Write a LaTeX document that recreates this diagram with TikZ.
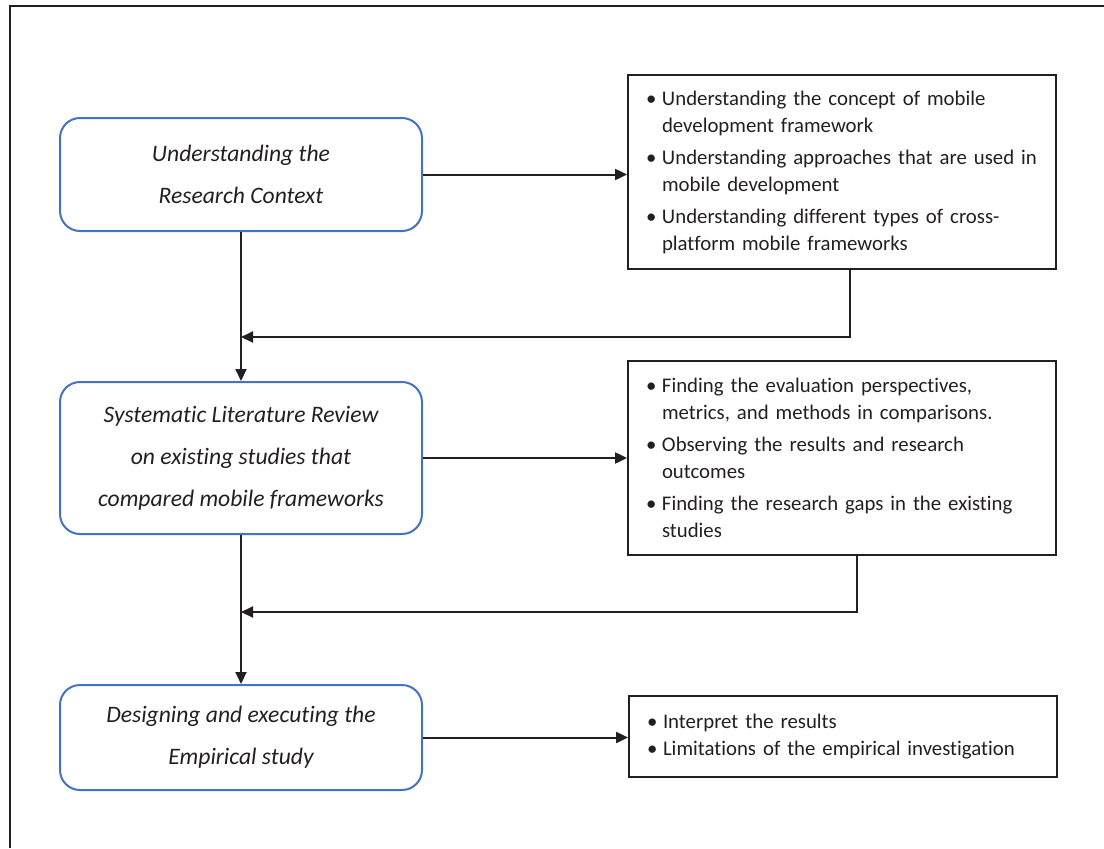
\documentclass[tikz,border=0pt]{standalone}
\usepackage{fontspec}
\setmainfont{Carlito}[RawFeature=-liga]
\usepackage{tikz}
\usetikzlibrary{arrows.meta}

\definecolor{stepblue}{RGB}{68,114,196}
\definecolor{inkgray}{RGB}{35,31,32}
\newcommand{\bmark}{\makebox[8pt][l]{\textbullet}}
\newcommand{\bgap}{\hspace*{8pt}}

\begin{document}
\begin{tikzpicture}[x=0.5pt, y=-0.5pt, inkgray,
    stepbox/.style={draw=stepblue, line width=1pt, rounded corners=10pt, align=center,
      minimum width=181pt, font=\fontsize{11.8}{21}\selectfont\itshape},
    taskbox/.style={draw=inkgray, line width=0.9pt, align=left, inner xsep=9pt,
      text width=196pt, minimum width=214pt, font=\fontsize{10.4}{13.5}\selectfont},
    flow/.style={line width=1pt, -{Triangle[length=6pt, width=5.5pt]}}]
  \useasboundingbox (0,0) rectangle (1104,848);
  \draw[line width=0.6pt] (10,848) -- (10,6) -- (1104,6);

  \node[stepbox, minimum height=56.5pt] (s0) at (241,174.5) {Understanding the\\Research Context};
  \node[stepbox, minimum height=76pt] (s1) at (241,458) {Systematic Literature Review\\on existing studies that\\compared mobile frameworks};
  \node[stepbox, minimum height=52.5pt] (s2) at (241,737.5) {Designing and executing the\\Empirical study};

  \node[taskbox, minimum height=97pt] (t0) at (842,172) {\bmark Understanding the concept of mobile\\ \bgap development framework\\[2.5pt]
    \bmark Understanding approaches that are used in\\ \bgap mobile development\\[2.5pt]
    \bmark Understanding different types of cross-\\ \bgap platform mobile frameworks};
  \node[taskbox, minimum height=97pt] (t1) at (842,458) {\bmark Finding the evaluation perspectives,\\ \bgap metrics, and methods in comparisons.\\[2.5pt]
    \bmark Observing the results and research\\ \bgap outcomes\\[2.5pt]
    \bmark Finding the research gaps in the existing\\ \bgap studies};
  \node[taskbox, minimum height=40.5pt] (t2) at (843,736.5) {\bmark Interpret the results\\
    \bmark Limitations of the empirical investigation};

  \coordinate (j0) at (850,337);
  \coordinate (j1) at (857,612);

  \draw[flow] (s0) -- (s1);
  \draw[flow] (s1) -- (s2);
  \draw[flow] (s0.east) -- (s0.east -| t0.west);
  \draw[flow] (s1.east) -- (s1.east -| t1.west);
  \draw[flow] (s2.east) -- (s2.east -| t2.west);
  \draw[flow] (j0 |- t0.south) -- (j0) -- (j0 -| s0.south);
  \draw[flow] (j1 |- t1.south) -- (j1) -- (j1 -| s1.south);
\end{tikzpicture}
\end{document}
